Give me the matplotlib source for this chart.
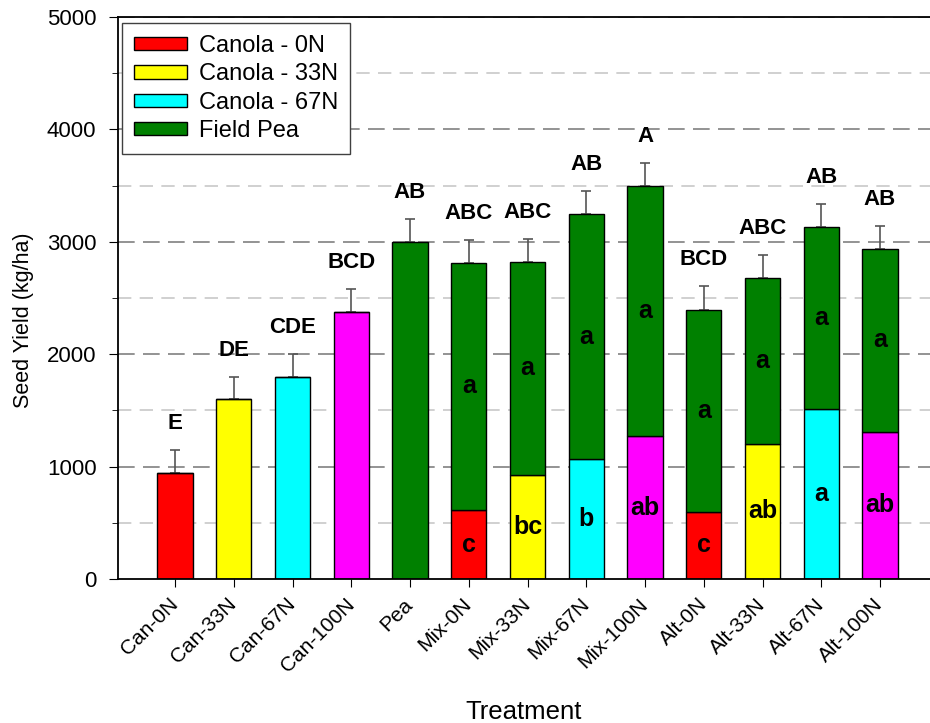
import numpy as np
import matplotlib
matplotlib.use("Agg")
import matplotlib.pyplot as plt
from matplotlib.patches import Patch

plt.rcParams['font.family'] = ['Liberation Sans', 'DejaVu Sans']

# --- donnees ---
treatments = ["Can-0N", "Can-33N", "Can-67N", "Can-100N", "Pea",
              "Mix-0N", "Mix-33N", "Mix-67N", "Mix-100N",
              "Alt-0N", "Alt-33N", "Alt-67N", "Alt-100N"]
n_rate = ["0N", "33N", "67N", "100N", None,
          "0N", "33N", "67N", "100N",
          "0N", "33N", "67N", "100N"]
canola_yield = [946, 1599, 1800, 2375, 0, 614, 925, 1068, 1272, 599, 1204, 1510, 1311]
total_yield = [946, 1599, 1800, 2375, 2996, 2814, 2823, 3247, 3499, 2396, 2678, 3129, 2936]
se = [202, 203, 205, 205, 207, 199, 202, 205, 202, 208, 202, 205, 205]

letters_total = ["E", "DE", "CDE", "BCD", "AB", "ABC", "ABC", "AB", "A", "BCD", "ABC", "AB", "AB"]
letters_canola = ["", "", "", "", "", "c", "bc", "b", "ab", "c", "ab", "a", "ab"]
letters_pea = ["", "", "", "", "", "a", "a", "a", "a", "a", "a", "a", "a"]

colors = {"0N": "#FF0000", "33N": "#FFFF00", "67N": "#00FFFF", "100N": "#FF00FF"}
pea_color = "#008000"

canola = np.array(canola_yield)
total = np.array(total_yield)
pea = total - canola
x = np.arange(1, len(treatments) + 1)
w = 0.6

fig = plt.figure(figsize=(9.3, 7.23), dpi=100)
ax = fig.add_axes([0.1269, 0.199, 0.8731, 0.7775])

# grille
for v in range(500, 5000, 1000):
    ax.axhline(v, color="#c8c8c8", lw=1.2, dashes=(8, 5), zorder=0)
for v in range(1000, 5001, 1000):
    ax.axhline(v, color="#808080", lw=1.2, dashes=(10, 5), zorder=0)

can_cols = [colors[r] if r else "white" for r in n_rate]
ax.bar(x, canola, w, color=can_cols, edgecolor="black", lw=1, zorder=2)
ax.bar(x, pea, w, bottom=canola, color=pea_color, edgecolor="black", lw=1, zorder=2)
ax.errorbar(x, total, yerr=[np.zeros_like(se), se], fmt="none", ecolor="#555555",
            elinewidth=1.2, capsize=3.3, capthick=1.2, zorder=1)

for i in range(len(x)):
    ax.annotate(letters_total[i], (x[i], total[i] + se[i]), xytext=(0, 19),
                textcoords="offset points", ha="center", va="center",
                fontsize=16, fontweight="bold")
    if letters_canola[i]:
        ax.text(x[i], canola[i] / 2, letters_canola[i], ha="center", va="center",
                fontsize=18, fontweight="bold", zorder=3)
    if letters_pea[i]:
        ax.text(x[i], canola[i] + pea[i] / 2, letters_pea[i], ha="center", va="center",
                fontsize=18, fontweight="bold", zorder=3)

ax.set_xlim(0.03, 13.85)
ax.set_ylim(0, 5000)
ax.set_yticks(range(0, 5001, 1000))
ax.set_yticks(range(500, 5000, 1000), minor=True)
ax.set_xticks(x)
ax.set_xticklabels(treatments, rotation=45, ha="right", va="center",
                   rotation_mode="anchor", fontsize=15)
ax.tick_params(axis="y", which="major", length=6.5, labelsize=16, pad=9, direction="out")
ax.tick_params(axis="y", which="minor", length=4.5, direction="out")
ax.tick_params(axis="x", length=6, direction="out", pad=10)
ax.spines["right"].set_visible(False)
for s in ["left", "bottom", "top"]:
    ax.spines[s].set_linewidth(1.3)

ax.set_ylabel("Seed Yield (kg/ha)", fontsize=15.5, va="center")
ax.yaxis.set_label_coords(-0.117, 0.46)
ax.set_xlabel("Treatment", fontsize=18.5, va="baseline")
ax.xaxis.set_label_coords(0.5, -0.248)

handles = [Patch(facecolor=colors["0N"], edgecolor="black", label="Canola - 0N"),
           Patch(facecolor=colors["33N"], edgecolor="black", label="Canola - 33N"),
           Patch(facecolor=colors["67N"], edgecolor="black", label="Canola - 67N"),
           Patch(facecolor=pea_color, edgecolor="black", label="Field Pea")]
leg = ax.legend(handles=handles, loc="upper left", bbox_to_anchor=(0.005, 0.989),
                borderaxespad=0, fontsize=17, fancybox=False, framealpha=1,
                edgecolor="#404040", handlelength=2.25, handleheight=0.5,
                labelspacing=0.27, borderpad=0.5, handletextpad=0.5)
leg.get_frame().set_linewidth(1.0)

fig.savefig("out.png", dpi=100)
